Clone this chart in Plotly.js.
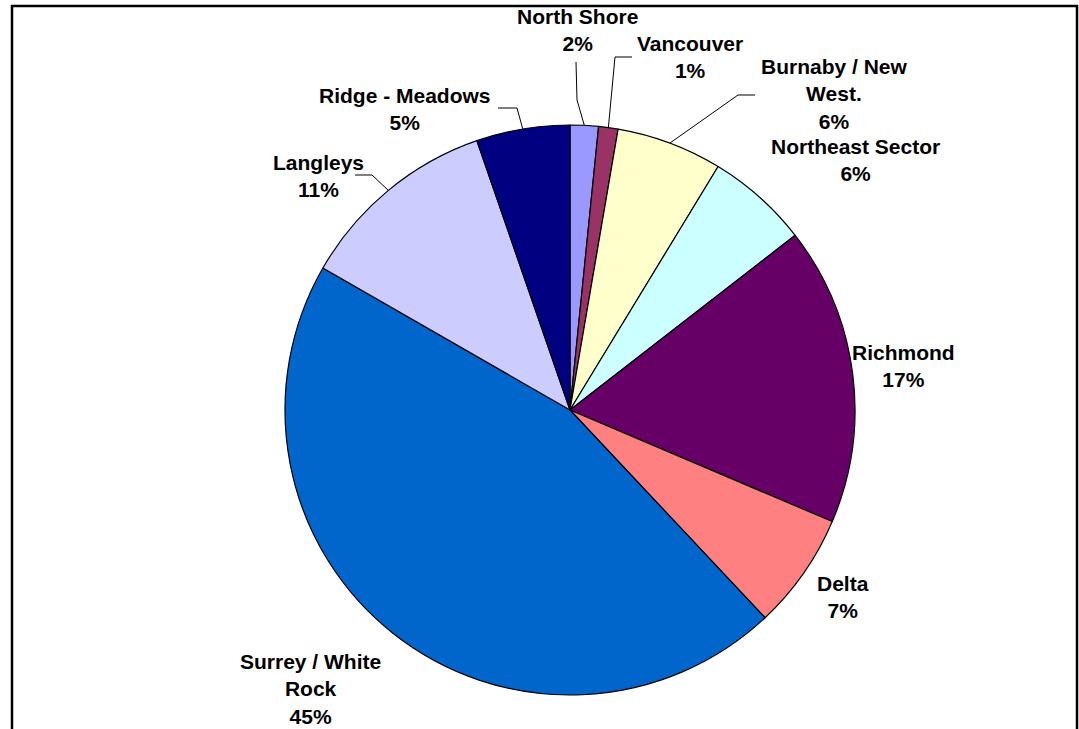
<!DOCTYPE html>
<html>
<head>
<meta charset="utf-8">
<script src="https://cdn.plot.ly/plotly-3.0.1.min.js"></script>
<style>
  html, body { margin: 0; padding: 0; background: #ffffff; }
  #chart { width: 1079px; height: 729px; }
</style>
</head>
<body>
<div id="chart"></div>
<script>
// ---- Data ----
const categories = ["North Shore", "Vancouver", "Burnaby / New West.", "Northeast Sector",
                    "Richmond", "Delta", "Surrey / White Rock", "Langleys", "Ridge - Meadows"];
const shares = [1.6, 1.1, 6.0, 5.8, 16.9, 6.6, 45.3, 11.4, 5.3];
const displayLabels = ["North Shore", "Vancouver", "Burnaby / New<br>West.", "Northeast Sector",
                       "Richmond", "Delta", "Surrey / White<br>Rock", "Langleys", "Ridge - Meadows"];
const sliceColors = ["#9999FF", "#993366", "#FFFFCC", "#CCFFFF", "#660066",
                     "#FF8080", "#0066CC", "#CCCCFF", "#000080"];

// ---- Layout helpers (pixel geometry of the figure) ----
const W = 1079, H = 729;
const CX = 570, CY = 410, R = 285;
const px = x => x / W;
const py = y => 1 - y / H;

// label block centres (pixels)
const labelPos = [[577, 30], [690, 57], [834, 94], [855, 160], [903, 366],
                  [843, 597], [310, 689], [318, 176], [405, 109]];
// leader lines: [elbow, end] in pixels, null = none
const leaders = [[[577, 100], [576, 62]], [[615, 57], [632, 57]], [[738, 95], [755, 95]],
                 null, null, null, null,
                 [[372, 175], [355, 175]], [[517, 108], [498, 108]]];

const total = shares.reduce((a, b) => a + b, 0);
const annotations = [];
const shapes = [];
let cum = 0;
shares.forEach((v, i) => {
  const pct = Math.round(v * 100 / total);
  const mid = (cum + v / 2) / total * 2 * Math.PI;
  cum += v;
  annotations.push({
    x: px(labelPos[i][0]), y: py(labelPos[i][1]), xref: "paper", yref: "paper",
    xanchor: "center", yanchor: "middle", showarrow: false, align: "center",
    text: "<b>" + displayLabels[i] + "<br>" + pct + "%</b>",
    font: { family: "Liberation Sans, Arial, sans-serif", size: 21, color: "#000000" }
  });
  if (leaders[i]) {
    const sx = CX + R * Math.sin(mid), sy = CY - R * Math.cos(mid);
    const e = leaders[i][0], f = leaders[i][1];
    shapes.push({
      type: "path", xref: "paper", yref: "paper",
      path: "M " + px(sx) + " " + py(sy) + " L " + px(e[0]) + " " + py(e[1]) +
            " L " + px(f[0]) + " " + py(f[1]),
      line: { color: "#000000", width: 1 }
    });
  }
});

// chart frame
shapes.push({
  type: "rect", xref: "paper", yref: "paper",
  x0: px(12), x1: px(1077), y0: py(740), y1: py(6),
  line: { color: "#000000", width: 2.5 }, fillcolor: "rgba(0,0,0,0)", layer: "below"
});

const trace = {
  type: "pie",
  labels: categories,
  values: shares,
  sort: false,
  direction: "clockwise",
  rotation: 0,
  textinfo: "none",
  textposition: "none",
  hoverinfo: "label+percent",
  marker: { colors: sliceColors, line: { color: "#000000", width: 1.2 } },
  domain: { x: [px(CX - R), px(CX + R)], y: [py(CY + R), py(CY - R)] },
  showlegend: false
};

const layout = {
  width: W, height: H,
  margin: { l: 0, r: 0, t: 0, b: 0 },
  paper_bgcolor: "#ffffff",
  plot_bgcolor: "#ffffff",
  showlegend: false,
  annotations: annotations,
  shapes: shapes
};

Plotly.newPlot("chart", [trace], layout, { displayModeBar: false, staticPlot: true });
</script>
</body>
</html>
